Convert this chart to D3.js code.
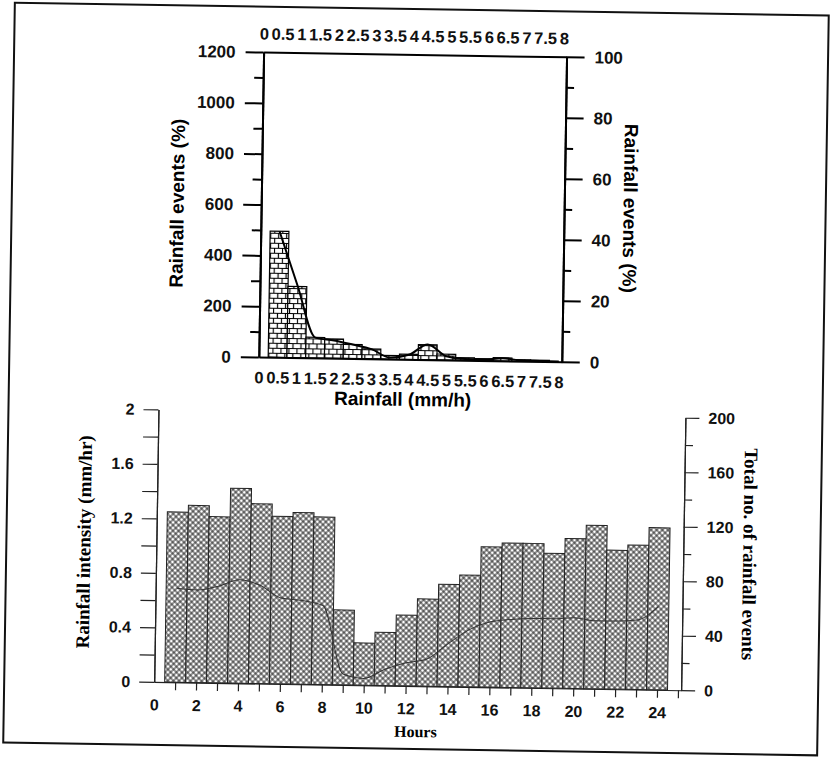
<!DOCTYPE html>
<html>
<head>
<meta charset="utf-8">
<script src="https://cdn.jsdelivr.net/npm/d3@7"></script>
<style>
body { margin: 0; background: #fff; }
</style>
</head>
<body>
<div id="chart"></div>
<script>
// top panel: rainfall class (mm/h) vs rainfall events
var rainBins = [0.5, 1, 1.5, 2, 2.5, 3, 3.5, 4, 4.5, 5, 5.5, 6, 6.5, 7, 7.5];
var rainEvents = [496, 280, 81, 76, 55, 39, 14, 20, 59, 23, 10, 7, 12, 6, 5];
var curveBins = [0.5, 1, 1.5, 2, 2.5, 3, 3.5, 4, 4.5, 5, 5.5, 6, 6.5, 7, 7.5, 8];
var curveEvents = [496, 285, 80, 70, 55, 38, 6, 18, 60, 15, 5, 4, 10, 3, 2, 1];
var rainTicks = [0, 0.5, 1, 1.5, 2, 2.5, 3, 3.5, 4, 4.5, 5, 5.5, 6, 6.5, 7, 7.5, 8];
var countTicks = [0, 200, 400, 600, 800, 1000, 1200];
var countMinor = [100, 300, 500, 700, 900, 1100];
var pctTicks = [0, 20, 40, 60, 80, 100];
var pctMinor = [10, 30, 50, 70, 90];

// bottom panel: hour of day
var hours = [1, 2, 3, 4, 5, 6, 7, 8, 9, 10, 11, 12, 13, 14, 15, 16, 17, 18, 19, 20, 21, 22, 23, 24];
var hourEvents = [125, 130, 122, 143, 132, 123, 126, 123, 55, 31, 39, 52, 64, 75, 82, 103, 106, 106, 99, 110, 120, 102, 106, 119];
var hourIntensity = [0.69, 0.68, 0.71, 0.76, 0.72, 0.63, 0.615, 0.58, 0.08, 0.05, 0.12, 0.17, 0.2, 0.315, 0.42, 0.48, 0.5, 0.51, 0.51, 0.52, 0.5, 0.5, 0.51, 0.61];
var hourTicks = [0, 2, 4, 6, 8, 10, 12, 14, 16, 18, 20, 22, 24];
var hourMinor = [1, 2, 3, 4, 5, 6, 7, 8, 9, 10, 11, 12, 13, 14, 15, 16, 17, 18, 19, 20, 21, 22, 23, 24, 25];
var intTicks = [0, 0.4, 0.8, 1.2, 1.6, 2];
var intMinor = [0.2, 0.6, 1, 1.4, 1.8];
var numTicks = [0, 40, 80, 120, 160, 200];
var numMinor = [20, 60, 100, 140, 180];

var sans = "'Liberation Sans', Arial, sans-serif";
var serif = "'Liberation Serif', 'Times New Roman', serif";
var plain = function(d) { return String(d); };

var svg = d3.select("#chart").append("svg")
    .attr("width", 830)
    .attr("height", 757);

var defs = svg.append("defs");

// brick fill for the top bars
var brick = defs.append("pattern")
    .attr("id", "brick")
    .attr("patternUnits", "userSpaceOnUse")
    .attr("width", 8)
    .attr("height", 10);
brick.append("rect").attr("width", 8).attr("height", 10).attr("fill", "#fff");
brick.append("path")
    .attr("d", "M0,0.5H8M0,5.5H8M0.5,0V5.5M4.5,5.5V10")
    .attr("stroke", "#000")
    .attr("stroke-width", 1.2)
    .attr("fill", "none");

// cross hatch for the hourly bars
var hatch = defs.append("pattern")
    .attr("id", "hatch")
    .attr("patternUnits", "userSpaceOnUse")
    .attr("width", 4)
    .attr("height", 4)
    .attr("patternTransform", "rotate(45)");
hatch.append("rect").attr("width", 4).attr("height", 4).attr("fill", "#fff");
hatch.append("path")
    .attr("d", "M0,2H4M2,0V4")
    .attr("stroke", "#111")
    .attr("stroke-width", 0.9);

// the scan is slightly tilted
var page = svg.append("g").attr("transform", "rotate(0.9,415,378)");

page.append("rect")
    .attr("x", 9).attr("y", 9)
    .attr("width", 814).attr("height", 740)
    .attr("fill", "none")
    .attr("stroke", "#111")
    .attr("stroke-width", 2);

function styleAxis(g, size, width, color) {
  g.attr("font-size", size)
   .attr("font-family", sans)
   .attr("font-weight", "bold");
  g.selectAll("path, line").attr("stroke", color).attr("stroke-width", width);
  g.selectAll("text").attr("fill", "#111");
}

// ---------- top panel ----------
var xR = d3.scaleLinear().domain([0, 8.08]).range([258.5, 561.5]);
var yR = d3.scaleLinear().domain([0, 1200]).range([359.5, 54.5]);
var yPct = d3.scaleLinear().domain([0, 100]).range([359.5, 54.5]);

var panelA = page.append("g");

panelA.selectAll("rect.bar")
    .data(rainBins)
    .enter()
    .append("rect")
      .attr("class", "bar")
      .attr("x", function(d) { return xR(d - 0.25); })
      .attr("width", xR(0.5) - xR(0))
      .attr("y", function(d, i) { return yR(rainEvents[i]); })
      .attr("height", function(d, i) { return yR(0) - yR(rainEvents[i]); })
      .attr("fill", "url(#brick)")
      .attr("stroke", "#000")
      .attr("stroke-width", 1.2);

panelA.append("path")
    .datum(curveEvents)
    .attr("fill", "none")
    .attr("stroke", "#000")
    .attr("stroke-width", 2)
    .attr("d", d3.line()
        .x(function(d, i) { return xR(curveBins[i]); })
        .y(function(d) { return yR(d); })
        .curve(d3.curveMonotoneX));

panelA.append("g")
    .attr("transform", "translate(258.5,0)")
    .call(d3.axisLeft(yR).tickValues(countMinor).tickSize(9).tickSizeOuter(0).tickFormat(""))
    .call(styleAxis, 17, 2, "#000");
panelA.append("g")
    .attr("transform", "translate(258.5,0)")
    .call(d3.axisLeft(yR).tickValues(countTicks).tickFormat(plain).tickSize(18).tickSizeOuter(0).tickPadding(10))
    .call(styleAxis, 17, 2, "#000");

panelA.append("g")
    .attr("transform", "translate(561.5,0)")
    .call(d3.axisRight(yPct).tickValues(pctMinor).tickSize(8).tickSizeOuter(0).tickFormat(""))
    .call(styleAxis, 17, 2, "#000");
panelA.append("g")
    .attr("transform", "translate(561.5,0)")
    .call(d3.axisRight(yPct).tickValues(pctTicks).tickFormat(plain).tickSize(18).tickSizeOuter(0).tickPadding(10))
    .call(styleAxis, 17, 2, "#000");

panelA.append("g")
    .attr("transform", "translate(0,54.5)")
    .call(d3.axisTop(xR).tickValues(rainTicks).tickFormat(plain).tickSize(0).tickSizeOuter(0).tickPadding(12.5))
    .call(styleAxis, 16.5, 2, "#000");
panelA.append("g")
    .attr("transform", "translate(0,359.5)")
    .call(d3.axisBottom(xR).tickValues(rainTicks).tickFormat(plain).tickSize(0).tickSizeOuter(0).tickPadding(14.5))
    .call(styleAxis, 16.5, 2, "#000");

panelA.append("text")
    .attr("transform", "translate(181,207) rotate(-90)")
    .attr("text-anchor", "middle")
    .attr("font-family", sans).attr("font-weight", "bold").attr("font-size", 19)
    .text("Rainfall events (%)");
panelA.append("text")
    .attr("transform", "translate(621,205) rotate(90)")
    .attr("text-anchor", "middle")
    .attr("font-family", sans).attr("font-weight", "bold").attr("font-size", 19)
    .text("Rainfall events (%)");
panelA.append("text")
    .attr("x", 403).attr("y", 406)
    .attr("text-anchor", "middle")
    .attr("font-family", sans).attr("font-weight", "bold").attr("font-size", 19)
    .text("Rainfall (mm/h)");

// ---------- bottom panel ----------
var xH = d3.scaleLinear().domain([0, 25.15]).range([159, 686]);
var yI = d3.scaleLinear().domain([0, 2]).range([686, 413.5]);
var yN = d3.scaleLinear().domain([0, 200]).range([686, 413.5]);

var panelB = page.append("g");

panelB.selectAll("rect.hour")
    .data(hours)
    .enter()
    .append("rect")
      .attr("class", "hour")
      .attr("x", function(d) { return xH(d - 0.5); })
      .attr("width", xH(1) - xH(0))
      .attr("y", function(d, i) { return yN(hourEvents[i]); })
      .attr("height", function(d, i) { return yN(0) - yN(hourEvents[i]); })
      .attr("fill", "url(#hatch)")
      .attr("stroke", "#222")
      .attr("stroke-width", 1);

panelB.append("path")
    .datum(hourIntensity)
    .attr("fill", "none")
    .attr("stroke", "#333")
    .attr("stroke-width", 1)
    .attr("d", d3.line()
        .x(function(d, i) { return xH(hours[i]); })
        .y(function(d) { return yI(d); })
        .curve(d3.curveMonotoneX));

panelB.append("g")
    .attr("transform", "translate(0,686)")
    .call(d3.axisBottom(xH).tickValues(hourMinor).tickSize(8).tickSizeOuter(0).tickFormat(""))
    .call(styleAxis, 16, 1.2, "#222");
panelB.append("g")
    .attr("transform", "translate(0,686)")
    .call(d3.axisBottom(xH).tickValues(hourTicks).tickFormat(plain).tickSize(0).tickSizeOuter(0).tickPadding(17))
    .call(styleAxis, 16, 1.2, "#222")
    .select(".domain").remove();

panelB.append("g")
    .attr("transform", "translate(159,0)")
    .call(d3.axisLeft(yI).tickValues(intMinor).tickSize(15).tickSizeOuter(0).tickFormat(""))
    .call(styleAxis, 16, 1.2, "#222");
panelB.append("g")
    .attr("transform", "translate(159,0)")
    .call(d3.axisLeft(yI).tickValues(intTicks).tickFormat(plain).tickSize(15).tickSizeOuter(0).tickPadding(9))
    .call(styleAxis, 16, 1.2, "#222");

panelB.append("g")
    .attr("transform", "translate(686,0)")
    .call(d3.axisRight(yN).tickValues(numMinor).tickSize(8).tickSizeOuter(0).tickFormat(""))
    .call(styleAxis, 16, 1.2, "#222");
panelB.append("g")
    .attr("transform", "translate(686,0)")
    .call(d3.axisRight(yN).tickValues(numTicks).tickFormat(plain).tickSize(14).tickSizeOuter(0).tickPadding(9))
    .call(styleAxis, 16, 1.2, "#222");

panelB.append("text")
    .attr("transform", "translate(93,547) rotate(-90)")
    .attr("text-anchor", "middle")
    .attr("font-family", serif).attr("font-weight", "bold").attr("font-size", 19)
    .text("Rainfall intensity (mm/hr)");
panelB.append("text")
    .attr("transform", "translate(746,549) rotate(90)")
    .attr("text-anchor", "middle")
    .attr("font-family", serif).attr("font-weight", "bold").attr("font-size", 19)
    .text("Total no. of rainfall events");
panelB.append("text")
    .attr("x", 421).attr("y", 737)
    .attr("text-anchor", "middle")
    .attr("font-family", serif).attr("font-weight", "bold").attr("font-size", 16)
    .text("Hours");
</script>
</body>
</html>
